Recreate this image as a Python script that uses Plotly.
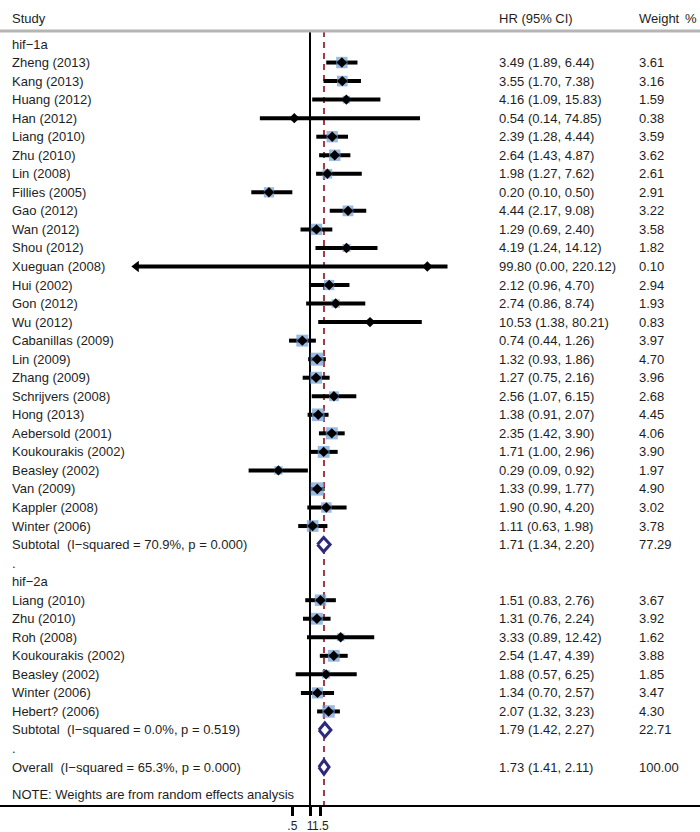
import plotly.graph_objects as go
import math

# ---------------- data ----------------
g1_name = "hif\u22121a"
g1_study = ["Zheng (2013)", "Kang (2013)", "Huang (2012)", "Han (2012)", "Liang (2010)",
            "Zhu (2010)", "Lin (2008)", "Fillies (2005)", "Gao (2012)", "Wan (2012)",
            "Shou (2012)", "Xueguan (2008)", "Hui (2002)", "Gon (2012)", "Wu (2012)",
            "Cabanillas (2009)", "Lin (2009)", "Zhang (2009)", "Schrijvers (2008)", "Hong (2013)",
            "Aebersold (2001)", "Koukourakis (2002)", "Beasley (2002)", "Van (2009)",
            "Kappler (2008)", "Winter (2006)"]
g1_hr = [3.49, 3.55, 4.16, 0.54, 2.39, 2.64, 1.98, 0.20, 4.44, 1.29, 4.19, 99.80, 2.12, 2.74,
         10.53, 0.74, 1.32, 1.27, 2.56, 1.38, 2.35, 1.71, 0.29, 1.33, 1.90, 1.11]
g1_lo = [1.89, 1.70, 1.09, 0.14, 1.28, 1.43, 1.27, 0.10, 2.17, 0.69, 1.24, 0.0011, 0.96, 0.86,
         1.38, 0.44, 0.93, 0.75, 1.07, 0.91, 1.42, 1.00, 0.09, 0.99, 0.90, 0.63]
g1_hi = [6.44, 7.38, 15.83, 74.85, 4.44, 4.87, 7.62, 0.50, 9.08, 2.40, 14.12, 220.12, 4.70, 8.74,
         80.21, 1.26, 1.86, 2.16, 6.15, 2.07, 3.90, 2.96, 0.92, 1.77, 4.20, 1.98]
g1_w = [3.61, 3.16, 1.59, 0.38, 3.59, 3.62, 2.61, 2.91, 3.22, 3.58, 1.82, 0.10, 2.94, 1.93,
        0.83, 3.97, 4.70, 3.96, 2.68, 4.45, 4.06, 3.90, 1.97, 4.90, 3.02, 3.78]
g1_sub_label = "Subtotal  (I\u2212squared = 70.9%, p = 0.000)"
g1_sub = [1.71, 1.34, 2.20, 77.29]

g2_name = "hif\u22122a"
g2_study = ["Liang (2010)", "Zhu (2010)", "Roh (2008)", "Koukourakis (2002)", "Beasley (2002)",
            "Winter (2006)", "Hebert? (2006)"]
g2_hr = [1.51, 1.31, 3.33, 2.54, 1.88, 1.34, 2.07]
g2_lo = [0.83, 0.76, 0.89, 1.47, 0.57, 0.70, 1.32]
g2_hi = [2.76, 2.24, 12.42, 4.39, 6.25, 2.57, 3.23]
g2_w = [3.67, 3.92, 1.62, 3.88, 1.85, 3.47, 4.30]
g2_sub_label = "Subtotal  (I\u2212squared = 0.0%, p = 0.519)"
g2_sub = [1.79, 1.42, 2.27, 22.71]

overall_label = "Overall  (I\u2212squared = 65.3%, p = 0.000)"
overall = [1.73, 1.41, 2.11, 100.00]

note_text = "NOTE: Weights are from random effects analysis"
tick_vals = [0.5, 1, 1.5]
tick_text = [".5", "1", "1.5"]

# ---------------- layout of rows ----------------
FONT = "Liberation Sans, Arial, sans-serif"
FS = 13
TXT = "#1e1e1e"
rows_text = []   # (row, study label, hr text, weight text)
studies = []     # (row, hr, lo, hi, w)
summaries = []   # (row, hr, lo, hi)

r = 0
rows_text.append((r, g1_name, "", ""))
for s, h, l, u, w in zip(g1_study, g1_hr, g1_lo, g1_hi, g1_w):
    r += 1
    studies.append((r, h, l, u, w))
    rows_text.append((r, s, f"{h:.2f} ({l:.2f}, {u:.2f})", f"{w:.2f}"))
r += 1
summaries.append((r,) + tuple(g1_sub[:3]))
rows_text.append((r, g1_sub_label, f"{g1_sub[0]:.2f} ({g1_sub[1]:.2f}, {g1_sub[2]:.2f})", f"{g1_sub[3]:.2f}"))
r += 1
rows_text.append((r, ".", "", ""))
r += 1
rows_text.append((r, g2_name, "", ""))
for s, h, l, u, w in zip(g2_study, g2_hr, g2_lo, g2_hi, g2_w):
    r += 1
    studies.append((r, h, l, u, w))
    rows_text.append((r, s, f"{h:.2f} ({l:.2f}, {u:.2f})", f"{w:.2f}"))
r += 1
summaries.append((r,) + tuple(g2_sub[:3]))
rows_text.append((r, g2_sub_label, f"{g2_sub[0]:.2f} ({g2_sub[1]:.2f}, {g2_sub[2]:.2f})", f"{g2_sub[3]:.2f}"))
r += 1
rows_text.append((r, ".", "", ""))
r += 1
summaries.append((r,) + tuple(overall[:3]))
rows_text.append((r, overall_label, f"{overall[0]:.2f} ({overall[1]:.2f}, {overall[2]:.2f})", f"{overall[3]:.2f}"))
note_row = r + 1.5

W, H = 700, 832
MB = 27
ROW_PX = 18.54
ROW0_PX = 44.0
y_top = -ROW0_PX / ROW_PX
y_bot = (H - MB - ROW0_PX) / ROW_PX
header_row = (18 - ROW0_PX) / ROW_PX
line_row = (31 - ROW0_PX) / ROW_PX

PX_PER_DEC = 58.7
x_left = -310 / PX_PER_DEC
x_right = (W - 310) / PX_PER_DEC

fig = go.Figure()

# reference lines
fig.add_trace(go.Scatter(x=[1, 1], y=[line_row, y_bot + 1], mode="lines",
                         line=dict(color="black", width=2), hoverinfo="skip", showlegend=False))
fig.add_trace(go.Scatter(x=[overall[0], overall[0]], y=[line_row, y_bot + 1], mode="lines",
                         line=dict(color="#a23a45", width=2, dash="6px,5px"),
                         hoverinfo="skip", showlegend=False))

# CI lines
cx, cy = [], []
for (row, h, l, u, w) in studies:
    cx += [l, u, None]
    cy += [row, row, None]
fig.add_trace(go.Scatter(x=cx, y=cy, mode="lines", line=dict(color="black", width=4),
                         hoverinfo="skip", showlegend=False))

# weight boxes
fig.add_trace(go.Scatter(x=[s[1] for s in studies], y=[s[0] for s in studies], mode="markers",
                         marker=dict(symbol="square", color="#6f9dd6",
                                     size=[6.0 * math.sqrt(s[4]) for s in studies],
                                     line=dict(width=0)),
                         hoverinfo="skip", showlegend=False))
# point estimates
fig.add_trace(go.Scatter(x=[s[1] for s in studies], y=[s[0] for s in studies], mode="markers",
                         marker=dict(symbol="diamond", color="black", size=8, line=dict(width=0)),
                         hoverinfo="skip", showlegend=False))
# clipped CI arrows
clip = [s for s in studies if s[2] < 0.01]
if clip:
    fig.add_trace(go.Scatter(x=[s[2] for s in clip], y=[s[0] for s in clip], mode="markers",
                             marker=dict(symbol="triangle-left", color="black", size=10),
                             hoverinfo="skip", showlegend=False))

# summary diamonds
DH = 0.38
for (row, h, l, u) in summaries:
    fig.add_trace(go.Scatter(x=[l, h, u, h, l], y=[row, row - DH, row, row + DH, row],
                             mode="lines", fill="toself", fillcolor="white",
                             line=dict(color="#2d2a7c", width=3),
                             hoverinfo="skip", showlegend=False))

# text
ann = []
def add_text(x_px, row, text):
    ann.append(dict(x=x_px / W, xref="paper", y=row, yref="y", text=text, showarrow=False,
                    xanchor="left", yanchor="middle", font=dict(family=FONT, size=FS, color=TXT)))

add_text(10, header_row, "Study")
add_text(497, header_row, "HR (95% CI)")
add_text(637, header_row, "Weight")
add_text(683, header_row, "%")
for (row, s, hrt, wt) in rows_text:
    add_text(10, row, s)
    if hrt:
        add_text(497, row, hrt)
    if wt:
        add_text(637, row, wt)
add_text(10, note_row, note_text)

fig.update_layout(
    width=W, height=H,
    margin=dict(l=0, r=0, t=0, b=MB),
    paper_bgcolor="white", plot_bgcolor="white",
    annotations=ann,
    shapes=[dict(type="line", xref="paper", yref="y", x0=0, x1=1, y0=line_row, y1=line_row,
                 line=dict(color="#b5b5b5", width=3))],
    showlegend=False,
)
fig.update_xaxes(type="log", range=[x_left, x_right], tickvals=tick_vals, ticktext=tick_text,
                 ticks="outside", ticklen=9, tickwidth=3, tickcolor="black",
                 showline=True, linewidth=2, linecolor="black", tickangle=0,
                 showgrid=False, zeroline=False, automargin=False,
                 tickfont=dict(family=FONT, size=12, color=TXT))
fig.update_yaxes(range=[y_bot, y_top], visible=False, showgrid=False, zeroline=False,
                 automargin=False)

fig.write_html("out.html", config={"displayModeBar": False},
               post_script="document.body.style.margin='0px';document.body.style.overflow='hidden';")
